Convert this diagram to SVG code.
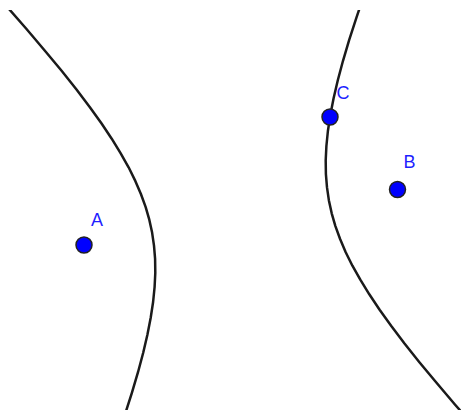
<svg xmlns="http://www.w3.org/2000/svg" width="461" height="412" viewBox="0 0 461 412">
<style>
.curve{fill:none;stroke:#1a1a1a;stroke-width:2.5;stroke-linejoin:round}
.pt{fill:#0000ff;stroke:#222;stroke-width:1.5}
.lbl{font-family:"Liberation Sans",Arial,sans-serif;font-size:18px;fill:#1f1fff}
</style>
<defs>
<clipPath id="view"><rect x="0" y="10" width="461" height="400"/></clipPath>
</defs>
<rect width="461" height="412" fill="#ffffff"/>
<g id="curves" clip-path="url(#view)">
<path id="branch-left" class="curve" d="M-5.7,-7.5 L5.6,5.1 L26.3,28.8 L44.9,50.7 L61.6,70.8 L76.5,89.5 L89.7,107.0 L101.4,123.3 L111.7,138.7 L120.7,153.4 L128.6,167.3 L135.3,180.9 L140.9,194.0 L145.6,206.9 L149.3,219.7 L152.1,232.6 L154.0,245.6 L155.1,258.9 L155.3,272.7 L154.6,287.0 L153.1,302.0 L150.7,317.8 L147.4,334.7 L143.2,352.8 L138.0,372.2 L131.8,393.1 L124.5,415.9 L116.0,440.6"/>
<path id="branch-right" class="curve" d="M365.0,-7.6 L356.6,17.1 L349.2,39.9 L343.0,60.8 L337.8,80.3 L333.6,98.3 L330.3,115.2 L327.9,131.0 L326.4,146.0 L325.7,160.3 L325.9,174.1 L327.0,187.4 L328.9,200.4 L331.7,213.3 L335.4,226.1 L340.1,239.0 L345.7,252.2 L352.4,265.7 L360.3,279.7 L369.3,294.3 L379.6,309.7 L391.3,326.0 L404.5,343.5 L419.4,362.2 L436.1,382.3 L454.7,404.2 L475.4,427.9"/>
</g>
<g id="A"><circle class="pt" cx="84" cy="245" r="8"/><text class="lbl" x="91" y="226">A</text></g>
<g id="B"><circle class="pt" cx="397.5" cy="189.5" r="8"/><text class="lbl" x="403.5" y="168">B</text></g>
<g id="C"><circle class="pt" cx="330" cy="117" r="8"/><text class="lbl" x="336.5" y="99">C</text></g>
</svg>
